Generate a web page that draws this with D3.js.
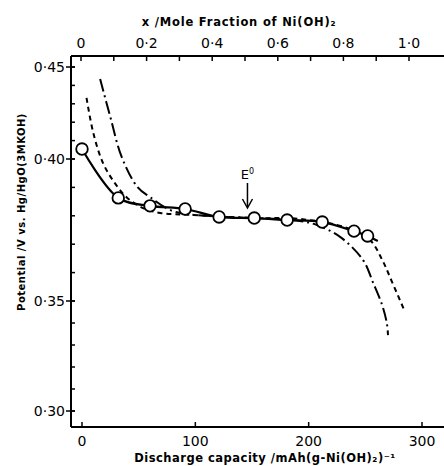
<!DOCTYPE html>
<html><head><meta charset="utf-8">
<script src="https://cdn.jsdelivr.net/npm/d3@7"></script>
<style>body{margin:0;background:#fff}svg{display:block}text{font-family:"DejaVu Sans",sans-serif;fill:#000}</style>
</head><body><svg id="c" width="444" height="466"></svg>
<script>
// ---- data ----
const solidCap = [0, 32, 60, 91, 121, 152, 181, 212, 240, 252, 261];
const solidV   = [0.4054, 0.3863, 0.3835, 0.3824, 0.3796, 0.3792, 0.3785, 0.3778, 0.3746, 0.3729, 0.3711];
const markerCount = 10;
const dashDotCap = [16, 25, 35, 49, 60, 80, 113, 157, 192, 207, 228, 248, 257, 265, 269, 270];
const dashDotV   = [0.4435, 0.4228, 0.4011, 0.3901, 0.3866, 0.3817, 0.3799, 0.3792, 0.3782, 0.3768, 0.3725, 0.3644, 0.3563, 0.3479, 0.3398, 0.3345];
const dashCap = [4, 10, 18.5, 29, 40, 54, 69, 98, 148, 192, 234, 254, 265, 274, 285];
const dashV   = [0.4332, 0.4141, 0.3986, 0.3915, 0.3863, 0.3827, 0.3810, 0.3803, 0.3792, 0.3789, 0.3757, 0.3715, 0.3644, 0.3563, 0.3451];
const yTicks = [0.30, 0.35, 0.40, 0.45];
const yTickLabels = ["0·30", "0·35", "0·40", "0·45"];
const bottomTicks = [0, 100, 200, 300];
const topTicks = [0, 0.2, 0.4, 0.6, 0.8, 1.0];
const topTickLabels = ["0", "0·2", "0·4", "0·6", "0·8", "1·0"];
const eoCap = 146;

// ---- scales ----
const svg = d3.select("#c");
const x = d3.scaleLinear().domain([0, 300]).range([82, 422]);
const xTop = d3.scaleLinear().domain([0, 1]).range([81, 409]);
const y = d3.scaleLinear().domain([0.30, 0.35, 0.40, 0.45]).range([411, 301, 159, 67]);
const fL = 71, fR = 444, fT = 56, fB = 427;

// frame
svg.append("line").attr("x1", fL).attr("x2", fL).attr("y1", fT).attr("y2", fB).attr("stroke", "#000").attr("stroke-width", 2);
svg.append("line").attr("x1", fL).attr("x2", fR).attr("y1", fT).attr("y2", fT).attr("stroke", "#000").attr("stroke-width", 2);
svg.append("line").attr("x1", fL).attr("x2", fR).attr("y1", fB).attr("y2", fB).attr("stroke", "#000").attr("stroke-width", 2);

// left axis
const yMinor = d3.range(0.30, 0.4501, 0.01).map(v => +v.toFixed(2));
svg.append("g").selectAll("line").data(yMinor).join("line")
  .attr("x1", fL).attr("x2", fL + 4).attr("y1", d => y(d)).attr("y2", d => y(d))
  .attr("stroke", "#000").attr("stroke-width", 1.5);
svg.append("g").selectAll("line").data(yTicks).join("line")
  .attr("x1", fL - 5).attr("x2", fL + 4).attr("y1", d => y(d)).attr("y2", d => y(d))
  .attr("stroke", "#000").attr("stroke-width", 1.5);
svg.append("g").selectAll("text").data(yTicks).join("text")
  .attr("x", fL - 6).attr("y", d => y(d) + 5).attr("text-anchor", "end")
  .attr("font-size", 14).text((d, i) => yTickLabels[i]);

// bottom axis
svg.append("g").selectAll("line").data(bottomTicks).join("line")
  .attr("x1", d => x(d)).attr("x2", d => x(d)).attr("y1", fB).attr("y2", fB - 5)
  .attr("stroke", "#000").attr("stroke-width", 1.5);
svg.append("g").selectAll("text").data(bottomTicks).join("text")
  .attr("x", d => x(d)).attr("y", 446).attr("text-anchor", "middle")
  .attr("font-size", 14).text(d => d);

// top axis
const topMinor = d3.range(0, 1.001, 0.1).map(v => +v.toFixed(1));
svg.append("g").selectAll("line").data(topMinor).join("line")
  .attr("x1", d => xTop(d)).attr("x2", d => xTop(d)).attr("y1", fT).attr("y2", fT + 5)
  .attr("stroke", "#000").attr("stroke-width", 1.5);
svg.append("g").selectAll("text").data(topTicks).join("text")
  .attr("x", d => xTop(d)).attr("y", 48).attr("text-anchor", "middle")
  .attr("font-size", 14).text((d, i) => topTickLabels[i]);

// titles
svg.append("text").attr("x", 239).attr("y", 26).attr("text-anchor", "middle")
  .attr("font-size", 11.5).attr("font-weight", "bold").attr("letter-spacing", 0.8)
  .text("x /Mole Fraction of Ni(OH)₂");
svg.append("text").attr("x", 265).attr("y", 462).attr("text-anchor", "middle")
  .attr("font-size", 11.5).attr("font-weight", "bold").attr("letter-spacing", 0.5)
  .text("Discharge capacity /mAh(g-Ni(OH)₂)⁻¹");
svg.append("text").attr("transform", "translate(25,212) rotate(-90)").attr("text-anchor", "middle")
  .attr("font-size", 10).attr("font-weight", "bold").attr("letter-spacing", 0.5)
  .text("Potential /V vs. Hg/HgO(3MKOH)");

// curves
const line = d3.line().x(d => x(d[0])).y(d => y(d[1])).curve(d3.curveCatmullRom.alpha(0.5));
svg.append("path").attr("d", line(dashCap.map((c, i) => [c, dashV[i]])))
  .attr("fill", "none").attr("stroke", "#000").attr("stroke-width", 2).attr("stroke-dasharray", "5,4");
svg.append("path").attr("d", line(dashDotCap.map((c, i) => [c, dashDotV[i]])))
  .attr("fill", "none").attr("stroke", "#000").attr("stroke-width", 2).attr("stroke-dasharray", "13,4,2,4");
svg.append("path").attr("d", line(solidCap.map((c, i) => [c, solidV[i]])))
  .attr("fill", "none").attr("stroke", "#000").attr("stroke-width", 2.2);
svg.append("g").selectAll("circle").data(solidCap.slice(0, markerCount)).join("circle")
  .attr("cx", d => x(d)).attr("cy", (d, i) => y(solidV[i])).attr("r", 5.8)
  .attr("fill", "#fff").attr("stroke", "#000").attr("stroke-width", 1.8);

// E0 annotation
const ex = x(eoCap);
svg.append("text").attr("x", ex).attr("y", 179).attr("text-anchor", "middle").attr("font-size", 13)
  .text("E").append("tspan").attr("font-size", 8).attr("dy", -5).text("0");
svg.append("line").attr("x1", ex).attr("x2", ex).attr("y1", 183).attr("y2", 207).attr("stroke", "#000").attr("stroke-width", 1.5);
svg.append("path").attr("d", `M${ex - 5},${199} L${ex},${208} L${ex + 5},${199}`).attr("fill", "none").attr("stroke", "#000").attr("stroke-width", 1.5);
</script></body></html>
